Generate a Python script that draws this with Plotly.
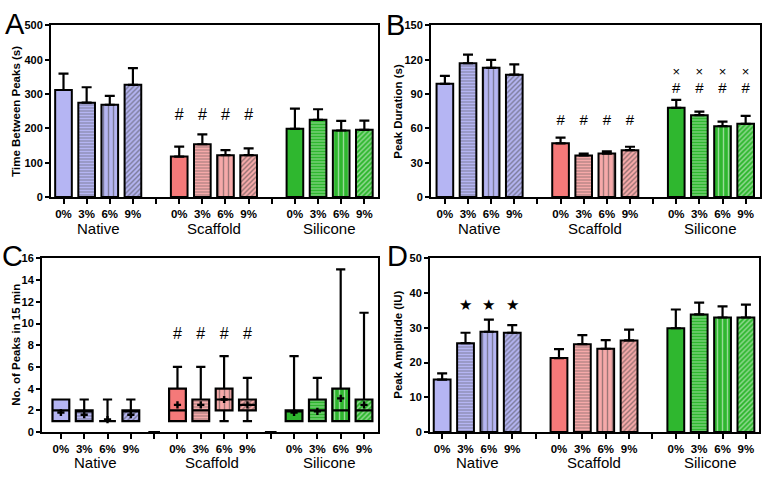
import plotly.graph_objects as go

# categories
groups = ["Native", "Scaffold", "Silicone"]
conc = ["0%", "3%", "6%", "9%"]

# A: time between peaks (s), mean and SEM
a_mean = [312, 275, 269, 327, 118, 154, 122, 122, 199, 225, 194, 196]
a_err = [48, 45, 26, 49, 29, 29, 15, 20, 59, 31, 28, 27]
a_sig = ["", "", "", "", "#", "#", "#", "#", "", "", "", ""]
a_sig_y = 235

# B: peak duration (s)
b_mean = [99, 117, 113, 107, 47, 36.4, 38, 41, 78, 71.6, 62, 64]
b_err = [7, 7.5, 7, 9, 5, 1.6, 2, 3, 7, 3.1, 4, 7]
b_sig = ["", "", "", "", "#", "#", "#", "#", "#", "#", "#", "#"]
b_sig_y = [0, 0, 0, 0, 66, 66, 66, 66, 94.5, 94.5, 94.5, 94.5]
b_sig2 = ["", "", "", "", "", "", "", "", "×", "×", "×", "×"]
b_sig2_y = 109

# C: no. of peaks in 15 min (box plots)
c_q1 = [1, 1, 1, 1, 1, 1, 2, 2, 1, 1, 1, 1]
c_med = [2, 2, 1, 2, 2, 2, 3, 2.5, 2, 2, 2, 2]
c_q3 = [3, 2, 1, 2, 4, 3, 4, 3, 2, 3, 4, 3]
c_lo = [1, 1, 1, 1, 1, 1, 1, 1, 1, 1, 1, 1]
c_hi = [3, 3, 3, 3, 6, 6, 7, 5, 7, 5, 15, 11]
c_avg = [1.8, 1.6, 1.15, 1.6, 2.5, 2.5, 3.0, 2.5, 1.8, 1.9, 3.1, 2.5]
c_sig = ["", "", "", "", "#", "#", "#", "#", "", "", "", ""]
c_sig_y = 8.9

# D: peak amplitude (IU)
d_mean = [15.1, 25.6, 28.9, 28.6, 21.3, 25.3, 24.0, 26.4, 29.9, 33.9, 33.0, 33.0]
d_err = [1.8, 3.0, 3.5, 2.2, 2.6, 2.6, 2.5, 3.1, 5.4, 3.4, 3.2, 3.7]
d_sig = ["", "★", "★", "★", "", "", "", "", "", "", "", ""]
d_sig_y = 36.1

# styling
bg_cols = {"Native": ["#b5b5f3"] * 4,
           "Scaffold": ["#f57979", "#f6a9a9", "#f6a9a9", "#f6a9a9"],
           "Silicone": ["#2fb72f"] * 4}
fg_cols = {"Native": "#5050a8", "Scaffold": "#cc4040", "Silicone": "#0a500a"}
shapes = ["", "-", "|", "/"]
psize = [4, 3, 5, 3.5]
solid = [0.3, 0.33, 0.28, 0.42]

xs = [g * 5 + i for g in range(3) for i in range(4)]
bar_bg = [bg_cols[g][i] for g in groups for i in range(4)]
bar_fg = [fg_cols[g] for g in groups for i in range(4)]
bar_shape = [shapes[i] for g in groups for i in range(4)]
bar_psize = [psize[i] for g in groups for i in range(4)]
bar_solid = [solid[i] for g in groups for i in range(4)]
W = 0.72
FONT = "Liberation Sans"


def pattern():
    return dict(shape=bar_shape, fgcolor=bar_fg, bgcolor=bar_bg, size=bar_psize,
                solidity=bar_solid, fillmode="overlay")


def bar_trace(vals, errs, ax):
    return go.Bar(
        x=xs, y=vals, width=W, xaxis="x" + ax, yaxis="y" + ax,
        marker=dict(color=bar_bg, line=dict(color="black", width=2), pattern=pattern()),
        error_y=dict(type="data", array=errs, arrayminus=[0] * len(errs), symmetric=False,
                     color="black", thickness=2.2, width=5),
        hoverinfo="skip",
    )


fig = go.Figure()
fig.add_trace(bar_trace(a_mean, a_err, ""))
fig.add_trace(bar_trace(b_mean, b_err, "2"))
fig.add_trace(bar_trace(d_mean, d_err, "4"))

# C: patterned fill under box outlines
fig.add_trace(go.Bar(
    x=xs, y=[h - l for h, l in zip(c_q3, c_q1)], base=c_q1, width=W,
    xaxis="x3", yaxis="y3",
    marker=dict(color=bar_bg, line=dict(width=0), pattern=pattern()),
))
fig.add_trace(go.Box(
    x=xs, q1=c_q1, median=c_med, q3=c_q3, lowerfence=c_lo, upperfence=c_hi,
    width=W, whiskerwidth=0.55, fillcolor="rgba(0,0,0,0)",
    line=dict(color="black", width=2.2), boxpoints=False,
    xaxis="x3", yaxis="y3",
))
fig.add_trace(go.Box(
    x=[4, 9], q1=[0, 0], median=[0, 0], q3=[0, 0], lowerfence=[0, 0], upperfence=[0, 0],
    width=0.5, fillcolor="rgba(0,0,0,0)", line=dict(color="black", width=2),
    boxpoints=False, xaxis="x3", yaxis="y3",
))
fig.add_trace(go.Scatter(
    x=xs, y=c_avg, mode="markers", xaxis="x3", yaxis="y3",
    marker=dict(symbol="cross", size=6, color="black"),
))


# significance marks
def sig_trace(labels, ys, ax, size):
    if not isinstance(ys, list):
        ys = [ys] * len(labels)
    px = [x for x, t in zip(xs, labels) if t]
    py = [y for y, t in zip(ys, labels) if t]
    pt = [t for t in labels if t]
    return go.Scatter(x=px, y=py, text=pt, mode="text", xaxis="x" + ax, yaxis="y" + ax,
                      textfont=dict(family=FONT, size=size, color="black"),
                      cliponaxis=False)


fig.add_trace(sig_trace(a_sig, a_sig_y, "", 16))
fig.add_trace(sig_trace(b_sig, b_sig_y, "2", 15))
fig.add_trace(sig_trace(b_sig2, b_sig2_y, "2", 13))
fig.add_trace(sig_trace(c_sig, c_sig_y, "3", 16))
fig.add_trace(sig_trace(d_sig, d_sig_y, "4", 15))

tickvals = list(range(14))
ticktext = []
for g in range(3):
    ticktext += conc
    if g < 2:
        ticktext.append("")


def xax(dom, rng, anchor):
    return dict(domain=dom, range=rng, anchor=anchor, tickvals=tickvals, ticktext=ticktext,
                ticks="outside", ticklen=5, tickwidth=2, tickcolor="black",
                showline=True, linewidth=2, linecolor="black", mirror=True,
                showgrid=False, zeroline=False,
                tickfont=dict(family=FONT, size=11.5, color="black", weight="bold"))


def yax(dom, rng, dtick, anchor):
    return dict(domain=dom, range=rng, dtick=dtick, anchor=anchor,
                ticks="outside", ticklen=4, tickwidth=2, tickcolor="black",
                showline=True, linewidth=2, linecolor="black", mirror=True,
                showgrid=False, zeroline=False,
                tickfont=dict(family=FONT, size=11, color="black", weight="bold"))


Wpx, Hpx = 764, 478
top_dom = [1 - 196 / Hpx, 1 - 20 / Hpx]
bot_dom = [1 - 437 / Hpx, 1 - 259 / Hpx]

fig.update_layout(
    width=Wpx, height=Hpx, margin=dict(l=0, r=0, t=0, b=0),
    paper_bgcolor="white", plot_bgcolor="white", showlegend=False,
    font=dict(family=FONT, color="black"),
    xaxis=xax([51 / Wpx, 378 / Wpx], [-0.54, 13.59], "y"),
    yaxis=yax(top_dom, [0, 500], 100, "x"),
    xaxis2=xax([431 / Wpx, 760 / Wpx], [-0.6, 13.62], "y2"),
    yaxis2=yax(top_dom, [0, 150], 30, "x2"),
    xaxis3=xax([42 / Wpx, 378 / Wpx], [-0.81, 13.6], "y3"),
    yaxis3=yax(bot_dom, [0, 16], 2, "x3"),
    xaxis4=xax([430 / Wpx, 759 / Wpx], [-0.52, 13.56], "y4"),
    yaxis4=yax(bot_dom, [0, 50], 10, "x4"),
)

ann = []
# group labels
for ax, yp in [("x", 228), ("x2", 228), ("x3", 468), ("x4", 468)]:
    for g, name in enumerate(groups):
        ann.append(dict(x=g * 5 + 1.5, y=1 - yp / Hpx, xref=ax, yref="paper", text=name,
                        showarrow=False, yanchor="middle",
                        font=dict(family=FONT, size=15, color="black")))
# y titles
titles = [("Time Between Peaks (s)", 16.5, 108), ("Peak Duration (s)", 398.5, 108),
          ("No. of Peaks in 15 min", 16.5, 348), ("Peak Amplitude (IU)", 398.5, 348)]
for t, xp, yp in titles:
    ann.append(dict(x=xp / Wpx, y=1 - yp / Hpx, xref="paper", yref="paper", text=t,
                    textangle=-90, showarrow=False, xanchor="center", yanchor="middle",
                    font=dict(family=FONT, size=11.5, color="black", weight="bold")))
# panel letters
for t, xp, yp in [("A", 15, 18), ("B", 395, 19), ("C", 12, 256), ("D", 397, 256)]:
    ann.append(dict(x=xp / Wpx, y=1 - yp / Hpx, xref="paper", yref="paper", text=t,
                    showarrow=False, xanchor="center", yanchor="middle",
                    font=dict(family=FONT, size=29, color="black")))
fig.update_layout(annotations=ann)

# page body has a default 8px margin; drop it so the figure fills the window
fig.write_html("out.html", config={"displayModeBar": False},
               post_script="document.body.style.margin='0';")
